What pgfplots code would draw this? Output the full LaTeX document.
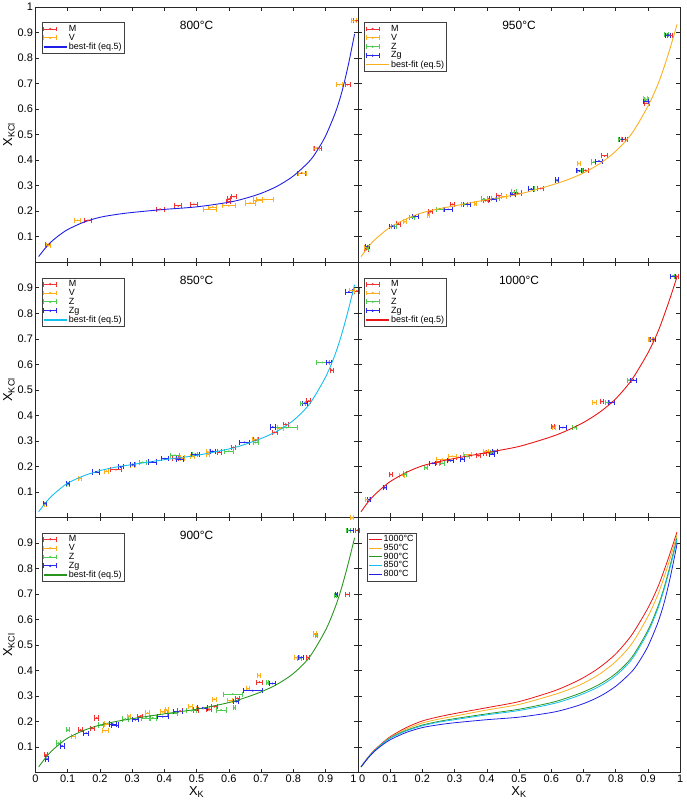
\documentclass[border=0pt]{standalone}
\usepackage{fontspec}
\setmainfont{Liberation Sans}
\usepackage{pgfplots}
\pgfplotsset{compat=1.18}
\usepgfplotslibrary{groupplots}

\definecolor{mred}{RGB}{245,50,50}
\definecolor{morange}{RGB}{255,175,30}
\definecolor{mgreen}{RGB}{80,205,80}
\definecolor{mblue}{RGB}{40,40,240}
\definecolor{c800}{RGB}{30,30,230}
\definecolor{c850}{RGB}{20,190,240}
\definecolor{c900}{RGB}{40,150,30}
\definecolor{c950}{RGB}{250,175,30}
\definecolor{c1000}{RGB}{235,20,20}

% best-fit curves (eq.5)
\pgfplotstableread{
x y
0.01 0.022
0.03 0.054
0.05 0.081
0.07 0.102
0.10 0.128
0.15 0.157
0.20 0.176
0.25 0.187
0.30 0.195
0.40 0.207
0.50 0.217
0.60 0.235
0.65 0.250
0.70 0.270
0.75 0.298
0.80 0.338
0.85 0.396
0.875 0.440
0.90 0.495
0.93 0.585
0.95 0.665
0.97 0.770
0.99 0.895
}\fitA
\pgfplotstableread{
x y
0.01 0.022
0.03 0.055
0.05 0.083
0.07 0.105
0.10 0.134
0.15 0.163
0.20 0.183
0.25 0.197
0.30 0.207
0.40 0.226
0.50 0.243
0.60 0.268
0.65 0.286
0.70 0.309
0.75 0.338
0.80 0.380
0.85 0.444
0.90 0.550
0.93 0.640
0.95 0.718
0.97 0.810
0.99 0.912
}\fitB
\pgfplotstableread{
x y
0.01 0.022
0.03 0.055
0.05 0.084
0.07 0.106
0.10 0.135
0.15 0.165
0.20 0.186
0.25 0.200
0.30 0.211
0.40 0.230
0.50 0.248
0.60 0.274
0.65 0.293
0.70 0.316
0.75 0.346
0.80 0.388
0.85 0.452
0.90 0.558
0.93 0.648
0.95 0.725
0.97 0.818
0.99 0.920
}\fitC
\pgfplotstableread{
x y
0.01 0.022
0.03 0.056
0.05 0.085
0.07 0.107
0.10 0.137
0.15 0.170
0.20 0.194
0.25 0.209
0.30 0.221
0.40 0.245
0.50 0.267
0.60 0.302
0.65 0.323
0.70 0.350
0.75 0.386
0.80 0.435
0.85 0.505
0.90 0.612
0.93 0.695
0.95 0.765
0.97 0.845
0.99 0.932
}\fitD
\pgfplotstableread{
x y
0.01 0.022
0.03 0.057
0.05 0.086
0.07 0.109
0.10 0.140
0.15 0.176
0.20 0.202
0.25 0.218
0.30 0.231
0.40 0.254
0.50 0.278
0.60 0.316
0.65 0.341
0.70 0.372
0.75 0.412
0.80 0.465
0.85 0.540
0.90 0.645
0.93 0.725
0.95 0.792
0.97 0.865
0.99 0.943
}\fitE

\pgfplotsset{
  ebar/.style={color=#1, only marks, mark=*, mark size=0.7pt,
    mark options={fill=#1, draw=#1},
    legend image code/.code={
      \draw[#1,line width=0.8pt] (0pt,0pt)--(13pt,0pt) (0pt,-2.4pt)--(0pt,2.4pt) (13pt,-2.4pt)--(13pt,2.4pt);
      \fill[#1] (6.5pt,0pt) circle (0.9pt);},
    error bars/.cd, x dir=both, x explicit, error mark=|,
    error bar style={line width=0.8pt, color=#1},
    error mark options={mark size=2.6pt, line width=0.8pt, color=#1, draw=#1}},
  fit/.style={color=#1, line width=0.9pt, smooth, tension=0.5, no marks,
    legend image code/.code={\draw[#1,line width=1.6pt] (0pt,0pt)--(23pt,0pt);}},
  allfit/.style={color=#1, line width=0.8pt, smooth, tension=0.5, no marks,
    legend image code/.code={\draw[#1,line width=1pt] (0pt,0pt)--(13pt,0pt);}},
}

\begin{document}
\begin{tikzpicture}
\begin{groupplot}[
  group style={group size=2 by 3, horizontal sep=0pt, vertical sep=0pt,
    xticklabels at=edge bottom, yticklabels at=edge left,
    xlabels at=edge bottom, ylabels at=edge left},
  width=323.5pt, height=256pt, scale only axis,
  xmin=0, xmax=1, ymin=0, ymax=1, clip=false,
  xtick={0,0.1,0.2,0.3,0.4,0.5,0.6,0.7,0.8,0.9,1},
  ytick={0,0.1,0.2,0.3,0.4,0.5,0.6,0.7,0.8,0.9,1},
  xticklabels={0,0.1,0.2,0.3,0.4,0.5,0.6,0.7,0.8,0.9,1},
  yticklabels={,0.1,0.2,0.3,0.4,0.5,0.6,0.7,0.8,0.9,},
  tick align=inside, major tick length=4pt,
  axis line style={black!85, line width=0.6pt},
  every tick/.style={black!85, line width=0.5pt},
  /pgf/number format/assume math mode=true,
  tick label style={font=\fontsize{11}{11}\selectfont},
  xticklabel style={yshift=1pt},
  yticklabel style={xshift=1pt},
  label style={font=\fontsize{13}{13}\selectfont},
  xlabel={X\textsubscript{K}}, ylabel={X\textsubscript{KCl}},
  xlabel style={yshift=3pt},
  ylabel style={yshift=-4pt},
  title style={at={(0.5,0.905)}, anchor=center, font=\fontsize{12}{12}\selectfont},
  legend style={at={(0.019,0.94)}, anchor=north west, draw=black!75,
    font=\fontsize{9}{9.5}\selectfont, inner sep=1.2pt, row sep=-1.6pt,
    nodes={inner sep=1.4pt}},
  legend cell align=left,
]

% ---- 800 C
\nextgroupplot[title={800°C}, yticklabels={,0.1,0.2,0.3,0.4,0.5,0.6,0.7,0.8,0.9,1}]
\addplot[ebar=mred] coordinates {
(0.040,0.069) +- (0.008,0) (0.163,0.164) +- (0.011,0) (0.387,0.208) +- (0.012,0)
(0.443,0.221) +- (0.011,0) (0.492,0.227) +- (0.011,0) (0.598,0.237) +- (0.006,0)
(0.601,0.248) +- (0.005,0) (0.616,0.257) +- (0.008,0) (0.825,0.349) +- (0.012,0)
(0.876,0.447) +- (0.012,0) (0.969,0.696) +- (0.008,0) (0.995,0.946) +- (0.008,0)
};
\addlegendentry{M}
\addplot[ebar=morange] coordinates {
(0.040,0.065) +- (0.006,0) (0.131,0.164) +- (0.010,0) (0.540,0.208) +- (0.020,0)
(0.550,0.216) +- (0.012,0) (0.600,0.221) +- (0.020,0) (0.666,0.232) +- (0.015,0)
(0.690,0.244) +- (0.015,0) (0.712,0.246) +- (0.025,0) (0.829,0.349) +- (0.012,0)
(0.871,0.447) +- (0.010,0) (0.943,0.696) +- (0.008,0) (0.987,0.946) +- (0.008,0)
};
\addlegendentry{V}
\addplot[fit=c800] table[x=x,y=y] {\fitA};
\addlegendentry{best-fit (eq.5)}

% ---- 950 C
\nextgroupplot[title={950°C}]
\addplot[ebar=mred] coordinates {
(0.027,0.050) +- (0.006,0) (0.126,0.150) +- (0.006,0) (0.225,0.198) +- (0.006,0)
(0.293,0.227) +- (0.006,0) (0.396,0.241) +- (0.008,0) (0.437,0.261) +- (0.008,0)
(0.496,0.271) +- (0.010,0) (0.566,0.289) +- (0.010,0) (0.707,0.360) +- (0.008,0)
(0.765,0.417) +- (0.008,0) (0.829,0.482) +- (0.008,0) (0.897,0.623) +- (0.008,0)
(0.968,0.890) +- (0.008,0)
};
\addlegendentry{M}
\addplot[ebar=morange] coordinates {
(0.025,0.058) +- (0.006,0) (0.146,0.159) +- (0.004,0) (0.219,0.185) +- (0.004,0)
(0.365,0.229) +- (0.004,0) (0.453,0.257) +- (0.008,0) (0.685,0.387) +- (0.005,0)
(0.892,0.640) +- (0.006,0)
};
\addlegendentry{V}
\addplot[ebar=mgreen] coordinates {
(0.029,0.056) +- (0.005,0) (0.112,0.141) +- (0.008,0) (0.169,0.176) +- (0.008,0)
(0.254,0.208) +- (0.010,0) (0.330,0.227) +- (0.010,0) (0.392,0.248) +- (0.010,0)
(0.427,0.250) +- (0.012,0) (0.485,0.275) +- (0.008,0) (0.538,0.287) +- (0.010,0)
(0.618,0.319) +- (0.005,0) (0.690,0.358) +- (0.008,0) (0.732,0.393) +- (0.006,0)
(0.813,0.482) +- (0.006,0) (0.896,0.637) +- (0.006,0) (0.958,0.893) +- (0.006,0)
};
\addlegendentry{Z}
\addplot[ebar=mblue] coordinates {
(0.030,0.062) +- (0.005,0) (0.107,0.141) +- (0.008,0) (0.179,0.180) +- (0.010,0)
(0.280,0.207) +- (0.012,0) (0.339,0.227) +- (0.010,0) (0.419,0.248) +- (0.010,0)
(0.480,0.267) +- (0.008,0) (0.538,0.287) +- (0.008,0) (0.618,0.322) +- (0.005,0)
(0.687,0.358) +- (0.008,0) (0.748,0.396) +- (0.010,0) (0.821,0.482) +- (0.010,0)
(0.893,0.631) +- (0.008,0) (0.962,0.890) +- (0.008,0)
};
\addlegendentry{Zg}
\addplot[fit=c950] table[x=x,y=y] {\fitD};
\addlegendentry{best-fit (eq.5)}

% ---- 850 C
\nextgroupplot[title={850°C}]
\addplot[ebar=mred] coordinates {
(0.250,0.187) +- (0.016,0) (0.434,0.230) +- (0.008,0) (0.571,0.256) +- (0.006,0)
(0.615,0.274) +- (0.006,0) (0.683,0.303) +- (0.008,0) (0.742,0.333) +- (0.008,0)
(0.776,0.365) +- (0.008,0) (0.848,0.456) +- (0.006,0) (0.919,0.577) +- (0.004,0)
(0.997,0.887) +- (0.008,0)
};
\addlegendentry{M}
\addplot[ebar=morange] coordinates {
(0.031,0.052) +- (0.004,0) (0.137,0.152) +- (0.005,0) (0.221,0.181) +- (0.006,0)
(0.302,0.203) +- (0.006,0) (0.457,0.233) +- (0.006,0) (0.488,0.239) +- (0.006,0)
(0.535,0.248) +- (0.005,0) (0.535,0.256) +- (0.005,0) (0.680,0.305) +- (0.008,0)
(0.760,0.350) +- (0.010,0) (0.982,0.889) +- (0.008,0)
};
\addlegendentry{V}
\addplot[ebar=mgreen] coordinates {
(0.101,0.128) +- (0.004,0) (0.188,0.177) +- (0.010,0) (0.264,0.198) +- (0.008,0)
(0.302,0.208) +- (0.008,0) (0.333,0.216) +- (0.010,0) (0.433,0.243) +- (0.015,0)
(0.496,0.248) +- (0.008,0) (0.600,0.259) +- (0.015,0) (0.683,0.293) +- (0.008,0)
(0.778,0.352) +- (0.035,0) (0.829,0.447) +- (0.008,0) (0.891,0.607) +- (0.020,0)
};
\addlegendentry{Z}
\addplot[ebar=mblue] coordinates {
(0.030,0.055) +- (0.004,0) (0.101,0.133) +- (0.004,0) (0.188,0.178) +- (0.010,0)
(0.264,0.198) +- (0.008,0) (0.302,0.207) +- (0.006,0) (0.364,0.217) +- (0.012,0)
(0.402,0.230) +- (0.010,0) (0.448,0.229) +- (0.012,0) (0.496,0.246) +- (0.012,0)
(0.550,0.259) +- (0.008,0) (0.648,0.294) +- (0.015,0) (0.736,0.354) +- (0.008,0)
(0.835,0.447) +- (0.008,0) (0.910,0.607) +- (0.008,0) (0.972,0.883) +- (0.010,0)
};
\addlegendentry{Zg}
\addplot[fit=c850] table[x=x,y=y] {\fitB};
\addlegendentry{best-fit (eq.5)}

% ---- 1000 C
\nextgroupplot[title={1000°C}]
\addplot[ebar=mred] coordinates {
(0.102,0.168) +- (0.004,0) (0.249,0.216) +- (0.006,0) (0.311,0.235) +- (0.006,0)
(0.375,0.242) +- (0.006,0) (0.394,0.252) +- (0.004,0) (0.605,0.356) +- (0.006,0)
(0.757,0.454) +- (0.004,0) (0.989,0.945) +- (0.006,0)
};
\addlegendentry{M}
\addplot[ebar=morange] coordinates {
(0.030,0.069) +- (0.006,0) (0.138,0.165) +- (0.008,0) (0.262,0.228) +- (0.018,0)
(0.293,0.239) +- (0.012,0) (0.339,0.246) +- (0.012,0) (0.396,0.259) +- (0.008,0)
(0.608,0.353) +- (0.004,0) (0.734,0.450) +- (0.006,0) (0.908,0.697) +- (0.006,0)
};
\addlegendentry{V}
\addplot[ebar=mgreen] coordinates {
(0.035,0.069) +- (0.005,0) (0.146,0.170) +- (0.006,0) (0.212,0.194) +- (0.005,0)
(0.262,0.212) +- (0.008,0) (0.324,0.229) +- (0.006,0) (0.339,0.238) +- (0.008,0)
(0.416,0.255) +- (0.006,0) (0.672,0.352) +- (0.006,0) (0.775,0.450) +- (0.006,0)
(0.841,0.538) +- (0.006,0) (0.911,0.697) +- (0.006,0) (0.977,0.945) +- (0.006,0)
};
\addlegendentry{Z}
\addplot[ebar=mblue] coordinates {
(0.035,0.069) +- (0.004,0) (0.084,0.116) +- (0.006,0) (0.231,0.212) +- (0.010,0)
(0.288,0.222) +- (0.010,0) (0.324,0.229) +- (0.006,0) (0.416,0.248) +- (0.008,0)
(0.425,0.259) +- (0.008,0) (0.636,0.352) +- (0.010,0) (0.786,0.450) +- (0.010,0)
(0.855,0.538) +- (0.010,0) (0.916,0.697) +- (0.008,0) (0.978,0.945) +- (0.008,0)
};
\addlegendentry{Zg}
\addplot[fit=c1000] table[x=x,y=y] {\fitE};
\addlegendentry{best-fit (eq.5)}

% ---- 900 C
\nextgroupplot[title={900°C},
  xticklabels={0,0.1,0.2,0.3,0.4,0.5,0.6,0.7,0.8,0.9,1\hspace*{9pt}}]
\addplot[ebar=mred] coordinates {
(0.033,0.069) +- (0.004,0) (0.140,0.167) +- (0.006,0) (0.176,0.173) +- (0.006,0)
(0.190,0.214) +- (0.006,0) (0.325,0.221) +- (0.008,0) (0.449,0.241) +- (0.008,0)
(0.498,0.245) +- (0.008,0) (0.538,0.246) +- (0.008,0) (0.555,0.258) +- (0.010,0)
(0.626,0.291) +- (0.006,0) (0.695,0.354) +- (0.008,0) (0.845,0.451) +- (0.006,0)
(0.967,0.698) +- (0.006,0) (1.000,0.949) +- (0.006,0)
};
\addlegendentry{M}
\addplot[ebar=morange] coordinates {
(0.118,0.142) +- (0.006,0) (0.217,0.164) +- (0.010,0) (0.221,0.190) +- (0.008,0)
(0.290,0.221) +- (0.006,0) (0.348,0.233) +- (0.006,0) (0.395,0.238) +- (0.006,0)
(0.407,0.245) +- (0.004,0) (0.480,0.258) +- (0.006,0) (0.520,0.250) +- (0.020,0)
(0.555,0.287) +- (0.006,0) (0.604,0.281) +- (0.008,0) (0.659,0.328) +- (0.006,0)
(0.693,0.380) +- (0.004,0) (0.811,0.450) +- (0.008,0) (0.866,0.543) +- (0.005,0)
(0.982,0.998) +- (0.004,0)
};
\addlegendentry{V}
\addplot[ebar=mgreen] coordinates {
(0.072,0.116) +- (0.006,0) (0.100,0.167) +- (0.004,0) (0.204,0.186) +- (0.008,0)
(0.279,0.210) +- (0.010,0) (0.343,0.214) +- (0.015,0) (0.364,0.214) +- (0.010,0)
(0.424,0.232) +- (0.015,0) (0.483,0.242) +- (0.015,0) (0.576,0.245) +- (0.015,0)
(0.617,0.254) +- (0.004,0) (0.612,0.307) +- (0.030,0) (0.720,0.352) +- (0.004,0)
(0.820,0.447) +- (0.006,0) (0.871,0.537) +- (0.004,0) (0.930,0.695) +- (0.004,0)
(0.970,0.949) +- (0.006,0)
};
\addlegendentry{Z}
\addplot[ebar=mblue] coordinates {
(0.036,0.053) +- (0.004,0) (0.083,0.104) +- (0.006,0) (0.157,0.154) +- (0.008,0)
(0.240,0.190) +- (0.010,0) (0.247,0.186) +- (0.010,0) (0.310,0.207) +- (0.008,0)
(0.395,0.219) +- (0.018,0) (0.442,0.238) +- (0.015,0) (0.519,0.253) +- (0.015,0)
(0.623,0.278) +- (0.008,0) (0.674,0.321) +- (0.030,0) (0.735,0.349) +- (0.010,0)
(0.824,0.451) +- (0.008,0) (0.933,0.698) +- (0.004,0) (0.977,0.949) +- (0.008,0)
};
\addlegendentry{Zg}
\addplot[fit=c900] table[x=x,y=y] {\fitC};
\addlegendentry{best-fit (eq.5)}

% ---- all temperatures
\nextgroupplot[legend style={at={(0.028,0.94)}, font=\fontsize{9}{9}\selectfont, row sep=-1.8pt},
  xticklabels={\hspace*{9pt}0,0.1,0.2,0.3,0.4,0.5,0.6,0.7,0.8,0.9,1}]
\addplot[allfit=c1000] table[x=x,y=y] {\fitE};
\addlegendentry{1000°C}
\addplot[allfit=c950] table[x=x,y=y] {\fitD};
\addlegendentry{950°C}
\addplot[allfit=c900] table[x=x,y=y] {\fitC};
\addlegendentry{900°C}
\addplot[allfit=c850] table[x=x,y=y] {\fitB};
\addlegendentry{850°C}
\addplot[allfit=c800] table[x=x,y=y] {\fitA};
\addlegendentry{800°C}
\end{groupplot}
\end{tikzpicture}
\end{document}
